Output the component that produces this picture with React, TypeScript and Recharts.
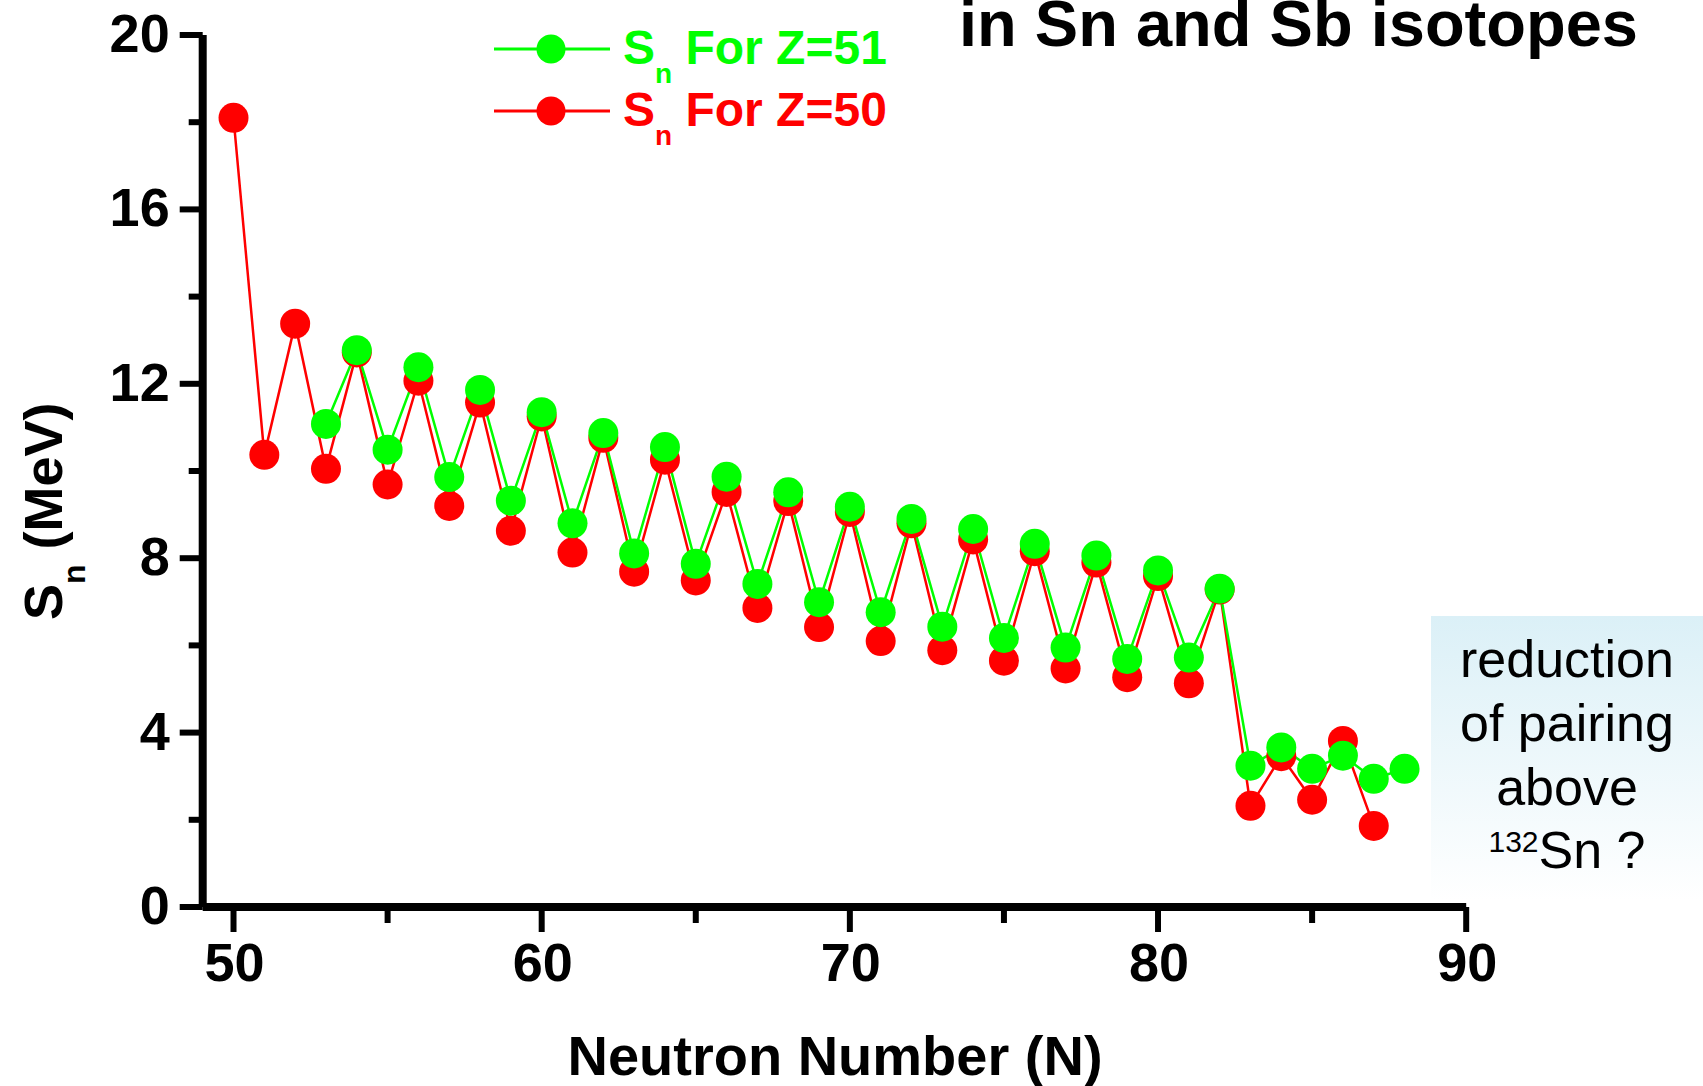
import React from 'react';
import { LineChart, Line, XAxis, YAxis } from 'recharts';

// Neutron number N for each row of the table
const neutronNumbers = [
  50, 51, 52, 53, 54, 55, 56, 57, 58, 59,
  60, 61, 62, 63, 64, 65, 66, 67, 68, 69,
  70, 71, 72, 73, 74, 75, 76, 77, 78, 79,
  80, 81, 82, 83, 84, 85, 86, 87, 88,
];

// One-neutron separation energy S_n (MeV), Sn isotopes (Z=50)
const snZ50: (number | null)[] = [
  18.10, 10.37, 13.38, 10.05, 12.72, 9.69, 12.07, 9.20, 11.57, 8.63,
  11.25, 8.13, 10.76, 7.69, 10.26, 7.49, 9.52, 6.86, 9.31, 6.42,
  9.06, 6.10, 8.80, 5.89, 8.43, 5.65, 8.16, 5.47, 7.90, 5.27,
  7.59, 5.13, 7.28, 2.32, 3.46, 2.46, 3.81, 1.86, null,
];

// One-neutron separation energy S_n (MeV), Sb isotopes (Z=51)
const snZ51: (number | null)[] = [
  null, null, null, 11.08, 12.77, 10.49, 12.38, 9.86, 11.86, 9.32,
  11.35, 8.80, 10.87, 8.11, 10.55, 7.87, 9.87, 7.41, 9.51, 6.99,
  9.18, 6.76, 8.90, 6.43, 8.67, 6.17, 8.33, 5.95, 8.06, 5.69,
  7.72, 5.72, 7.30, 3.24, 3.66, 3.17, 3.47, 2.94, 3.17,
];

const xTicks = [50, 55, 60, 65, 70, 75, 80, 85, 90];
const xLabeledTicks = [50, 60, 70, 80, 90];
const yTicks = [0, 2, 4, 6, 8, 10, 12, 14, 16, 18, 20];
const yLabeledTicks = [0, 4, 8, 12, 16, 20];

const seriesZ51 = { key: 'z51', name: 'Z=51', color: '#00ff00' };
const seriesZ50 = { key: 'z50', name: 'Z=50', color: '#ff0000' };

const titleText = 'in Sn and Sb isotopes';
const xAxisTitle = 'Neutron Number (N)';
const noteLines = ['reduction', 'of pairing', 'above'];

const rows = neutronNumbers.map((n, i) => ({ n, z50: snZ50[i], z51: snZ51[i] }));

const FONT = "'Liberation Sans', Arial, Helvetica, sans-serif";
const W = 1703;
const H = 1086;

function XTick(props: any) {
  const { x, y, payload } = props;
  const major = xLabeledTicks.includes(payload.value);
  return (
    <g>
      <line x1={x} y1={y} x2={x} y2={y + (major ? 25 : 16)} stroke="#000" strokeWidth={6} />
      {major && (
        <text x={x + 1} y={y + 74} textAnchor="middle" fontFamily={FONT} fontWeight="bold" fontSize={54} fill="#000">
          {payload.value}
        </text>
      )}
    </g>
  );
}

function YTick(props: any) {
  const { x, y, payload } = props;
  const major = yLabeledTicks.includes(payload.value);
  return (
    <g>
      <line x1={x} y1={y} x2={x - (major ? 23 : 14)} y2={y} stroke="#000" strokeWidth={6} />
      {major && (
        <text x={x - 33} y={y + 17} textAnchor="end" fontFamily={FONT} fontWeight="bold" fontSize={54} fill="#000">
          {payload.value}
        </text>
      )}
    </g>
  );
}

function LegendRow({ y, color, name }: { y: number; color: string; name: string }) {
  return (
    <g>
      <line x1={494} y1={y} x2={610} y2={y} stroke={color} strokeWidth={3} />
      <circle cx={551} cy={y} r={14.5} fill={color} />
      <text x={623} y={y + 15} fontFamily={FONT} fontWeight="bold" fontSize={48} fill={color} style={{ whiteSpace: 'pre' }}>
        <tspan>S</tspan>
        <tspan fontSize={28} dy={19}>n</tspan>
        <tspan dy={-19}>{' For ' + name}</tspan>
      </text>
    </g>
  );
}

export default function App() {
  return (
    <div style={{ position: 'absolute', left: 0, top: 0, width: W, height: H, background: '#fff' }}>
      <LineChart
        width={W}
        height={H}
        data={rows}
        margin={{ top: 35, right: 236.8, bottom: 79, left: 52.7 }}
      >
        <XAxis
          dataKey="n"
          type="number"
          domain={[49, 90]}
          ticks={xTicks}
          interval={0}
          allowDataOverflow
          height={100}
          tickSize={0}
          tickMargin={0}
          tickLine={false}
          axisLine={{ stroke: '#000', strokeWidth: 8 }}
          tick={<XTick />}
        />
        <YAxis
          type="number"
          domain={[0, 20]}
          ticks={yTicks}
          interval={0}
          allowDataOverflow
          width={150}
          tickSize={0}
          tickMargin={0}
          tickLine={false}
          axisLine={{ stroke: '#000', strokeWidth: 8 }}
          tick={<YTick />}
        />
        <Line
          type="linear"
          dataKey={seriesZ50.key}
          name={seriesZ50.name}
          stroke={seriesZ50.color}
          strokeWidth={2.5}
          dot={{ r: 15, fill: seriesZ50.color, stroke: 'none', strokeWidth: 0 }}
          activeDot={false}
          isAnimationActive={false}
        />
        <Line
          type="linear"
          dataKey={seriesZ51.key}
          name={seriesZ51.name}
          stroke={seriesZ51.color}
          strokeWidth={2.5}
          dot={{ r: 15, fill: seriesZ51.color, stroke: 'none', strokeWidth: 0 }}
          activeDot={false}
          isAnimationActive={false}
        />
      </LineChart>

      <svg
        width={W}
        height={H}
        style={{ position: 'absolute', left: 0, top: 0, pointerEvents: 'none' }}
      >
        <defs>
          <linearGradient id="noteFill" x1="0" y1="0" x2="0" y2="1">
            <stop offset="0" stopColor="#dbf0f7" />
            <stop offset="1" stopColor="#ffffff" />
          </linearGradient>
        </defs>

        <text x={959} y={46} fontFamily={FONT} fontWeight="bold" fontSize={65} fill="#000">
          {titleText}
        </text>

        <LegendRow y={49} color={seriesZ51.color} name={seriesZ51.name} />
        <LegendRow y={111} color={seriesZ50.color} name={seriesZ50.name} />

        <text
          x={835}
          y={1075}
          textAnchor="middle"
          fontFamily={FONT}
          fontWeight="bold"
          fontSize={56}
          fill="#000"
        >
          {xAxisTitle}
        </text>

        <text
          transform="translate(62,620) rotate(-90)"
          fontFamily={FONT}
          fontWeight="bold"
          fontSize={54}
          fill="#000"
          style={{ whiteSpace: 'pre' }}
        >
          <tspan>S</tspan>
          <tspan fontSize={32} dy={23}>n</tspan>
          <tspan dy={-23}>{' (MeV)'}</tspan>
        </text>

        <rect x={1431} y={616} width={272} height={285} fill="url(#noteFill)" />
        {noteLines.map((line, i) => (
          <text key={line} x={1567} y={677 + i * 64} textAnchor="middle" fontFamily={FONT} fontSize={52} fill="#000">
            {line}
          </text>
        ))}
        <text x={1567} y={868} textAnchor="middle" fontFamily={FONT} fill="#000" style={{ whiteSpace: 'pre' }}>
          <tspan fontSize={30} dy={-16}>132</tspan>
          <tspan fontSize={52} dy={16}>{'Sn ?'}</tspan>
        </text>
      </svg>
    </div>
  );
}
